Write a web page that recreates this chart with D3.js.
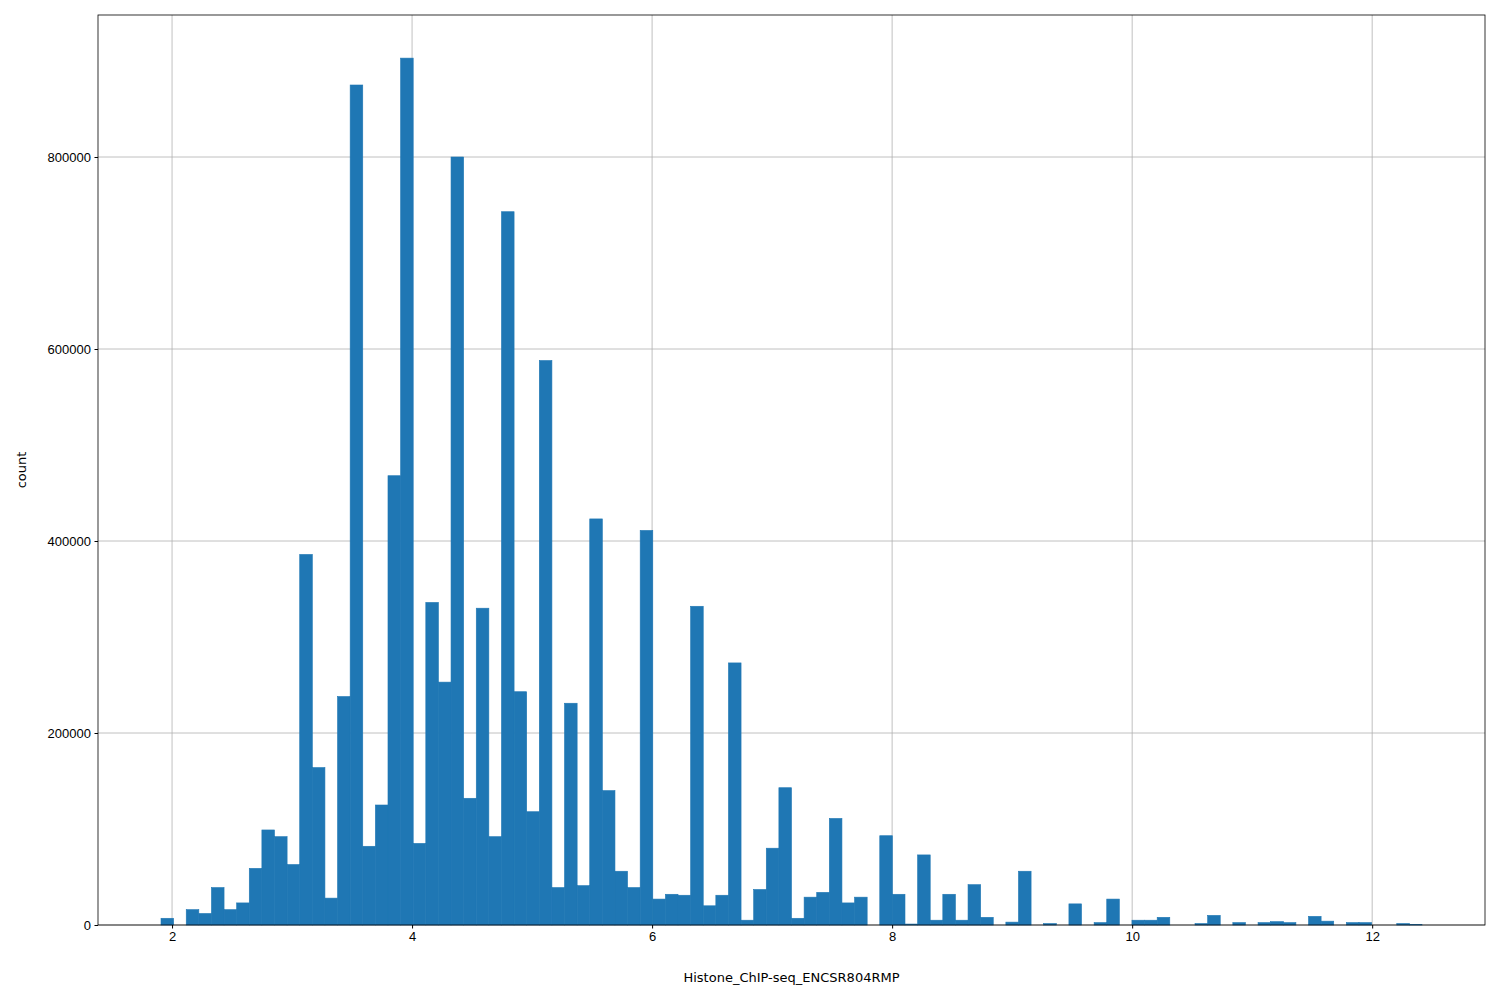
<!DOCTYPE html>
<html><head><meta charset="utf-8">
<script src="https://cdn.jsdelivr.net/npm/d3@7"></script>
<style>body{margin:0;background:#fff}svg{font-family:"DejaVu Sans",sans-serif}</style>
</head><body>
<svg id="c" width="1500" height="1000"></svg>
<script>
const binStart = 1.908;
const binWidth = 0.10507;
const counts = [7000,0,16000,12000,39000,16000,23000,59000,99000,92000,
63000,386000,164000,28000,238000,875000,82000,125000,468000,903000,
85000,336000,253000,800000,132000,330000,92000,743000,243000,118000,
588000,39000,231000,41000,423000,140000,56000,39000,411000,27000,
32000,31000,332000,20000,31000,273000,5000,37000,80000,143000,
7000,29000,34000,111000,23000,29000,0,93000,32000,1000,
73000,5000,32000,5000,42000,8000,0,3000,56000,0,
1500,0,22000,0,2500,27000,0,5000,5000,8000,
0,0,1500,10000,0,2500,0,2500,3500,2500,
0,9000,4000,0,2500,2500,0,0,1500,500];
const xTicks = [2,4,6,8,10,12];
const yTicks = [0,200000,400000,600000,800000];
const xLabel = "Histone_ChIP-seq_ENCSR804RMP";
const yLabel = "count";

const L=98,R=1485,T=15,B=925;
const svg=d3.select("#c");
const x=d3.scaleLinear().domain([1.383,12.94]).range([L,R]);
const y=d3.scaleLinear().domain([0,947917]).range([B,T]);

const g=svg.append("g");
g.selectAll(".gx").data(xTicks).enter().append("line")
 .attr("x1",d=>x(d)).attr("x2",d=>x(d)).attr("y1",T).attr("y2",B)
 .attr("stroke","#b0b0b0").attr("stroke-width",0.8);
g.selectAll(".gy").data(yTicks).enter().append("line")
 .attr("x1",L).attr("x2",R).attr("y1",d=>y(d)).attr("y2",d=>y(d))
 .attr("stroke","#b0b0b0").attr("stroke-width",0.8);

svg.append("g").selectAll("rect").data(counts).enter().append("rect")
 .attr("x",(d,i)=>x(binStart+i*binWidth))
 .attr("width",(d,i)=>x(binStart+(i+1)*binWidth)-x(binStart+i*binWidth))
 .attr("y",d=>y(d)).attr("height",d=>B-y(d))
 .attr("fill","#1f77b4").attr("stroke","#1f77b4").attr("stroke-width",0.6);

const xa=svg.append("g").attr("transform",`translate(0,${B})`)
 .call(d3.axisBottom(x).tickValues(xTicks).tickSize(3.5).tickPadding(3.5).tickFormat(d3.format("d")));
const ya=svg.append("g").attr("transform",`translate(${L},0)`)
 .call(d3.axisLeft(y).tickValues(yTicks).tickSize(3.5).tickPadding(3.5).tickFormat(d3.format("d")));
[xa,ya].forEach(a=>{a.select(".domain").remove();a.selectAll("text").attr("font-size",13).attr("fill","#000");a.selectAll("line").attr("stroke","#000");});

svg.append("rect").attr("x",L).attr("y",T).attr("width",R-L).attr("height",B-T)
 .attr("fill","none").attr("stroke","#000").attr("stroke-width",0.8);

svg.append("text").attr("x",(L+R)/2).attr("y",982).attr("text-anchor","middle")
 .attr("font-size",13).text(xLabel);
svg.append("text").attr("transform",`translate(26,${(T+B)/2}) rotate(-90)`)
 .attr("text-anchor","middle").attr("font-size",13).text(yLabel);
</script>
</body></html>
